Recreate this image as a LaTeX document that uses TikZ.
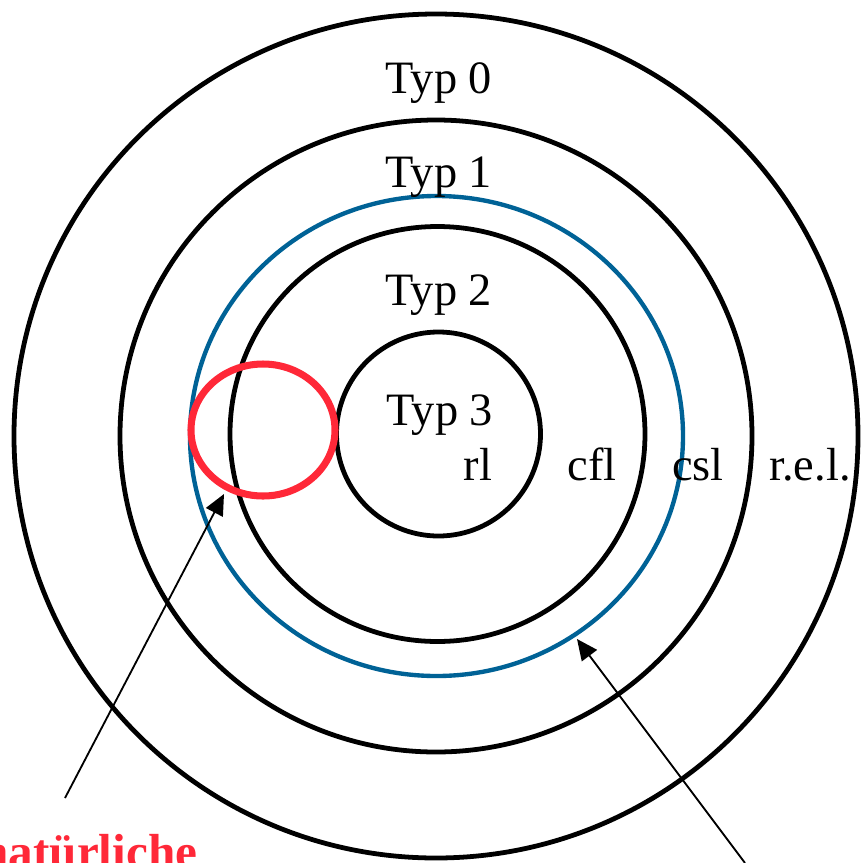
\documentclass[tikz,border=0pt]{standalone}
\usepackage{fontspec}
\setmainfont{Liberation Serif}
\usetikzlibrary{arrows.meta}
\definecolor{ringblue}{RGB}{0,98,150}
\definecolor{markred}{RGB}{255,40,56}
\begin{document}
\begin{tikzpicture}[x=0.025cm,y=0.025cm,font=\fontsize{33}{39}\selectfont,
  ring/.style={draw=black,line width=3.4pt},
  lbl/.style={anchor=base,inner sep=0pt},
  pointer/.style={draw=black,line width=1.3pt,-{Triangle[length=0.52cm,width=0.47cm]}}]
\useasboundingbox (0,0) rectangle (861,-863);
\path[ring] (436,-436) circle[radius=422];
\path[ring] (436,-436) circle[radius=316];
\path[draw=ringblue,line width=3.1pt] (436.5,-436) ellipse[x radius=246.5,y radius=240];
\path[ring] (437.5,-434) circle[radius=207.5];
\path[ring] (438.5,-434) circle[radius=102];
\path[draw=markred,line width=5pt] (263,-430) ellipse[x radius=72,y radius=66];
\node[lbl] (typ-0) at (439,-93) {Typ 0};
\node[lbl] (typ-1) at (439,-187) {Typ 1};
\node[lbl] (typ-2) at (439,-305) {Typ 2};
\node[lbl] (typ-3) at (440,-425) {Typ 3};
\node[lbl] (lang-rl) at (478,-480) {rl};
\node[lbl] (lang-cfl) at (592,-480) {cfl};
\node[lbl] (lang-csl) at (698,-480) {csl};
\node[lbl] (lang-rel) at (810,-480) {r.e.l.};
\node[lbl,anchor=base west,text=markred,font=\fontsize{35}{42}\selectfont\bfseries] (natural) at (-19,-868) {natürliche};
\coordinate (tail-0) at (65,-798);
\coordinate (head-0) at (224,-494);
\coordinate (tail-1) at (745,-863);
\coordinate (head-1) at (577,-639);
\path[pointer] (tail-0) -- (head-0);
\path[pointer] (tail-1) -- (head-1);
\end{tikzpicture}
\end{document}
